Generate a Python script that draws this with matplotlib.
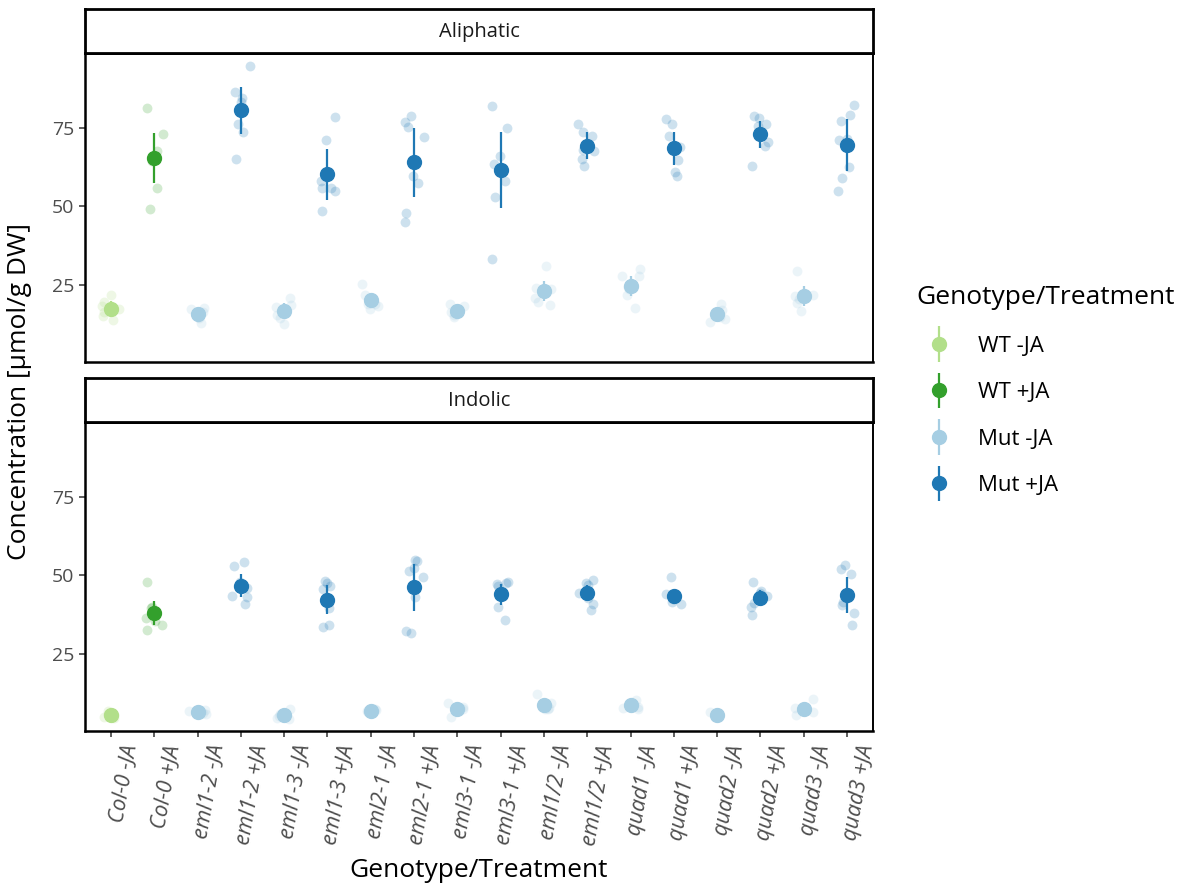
import numpy as np
import matplotlib
matplotlib.use("Agg")
import matplotlib.pyplot as plt
from matplotlib.container import ErrorbarContainer
from matplotlib.legend_handler import HandlerErrorbar
from matplotlib.transforms import ScaledTranslation

plt.rcParams['font.family'] = ['Open Sans', 'DejaVu Sans']

# ---- data -------------------------------------------------------------
categories = ['Col-0 -JA', 'Col-0 +JA', 'eml1-2 -JA', 'eml1-2 +JA',
              'eml1-3 -JA', 'eml1-3 +JA', 'eml2-1 -JA', 'eml2-1 +JA',
              'eml3-1 -JA', 'eml3-1 +JA', 'eml1/2 -JA', 'eml1/2 +JA',
              'quad1 -JA', 'quad1 +JA', 'quad2 -JA', 'quad2 +JA',
              'quad3 -JA', 'quad3 +JA']
groups = ['WT -JA', 'WT +JA'] + ['Mut -JA', 'Mut +JA'] * 8
group_order = ['WT -JA', 'WT +JA', 'Mut -JA', 'Mut +JA']
group_colors = ['#b2df8a', '#33a02c', '#a6cee3', '#1f78b4']

aliphatic_mean = [17.4, 65.3, 15.7, 80.5, 16.7, 60.3, 20.1, 64.0, 16.9,
                  61.5, 23.0, 69.3, 24.8, 68.5, 15.8, 72.9, 21.6, 69.6]
aliphatic_sd = [2.5, 8.0, 1.8, 7.5, 2.5, 8.1, 2.5, 10.9, 1.8,
                12.1, 3.2, 4.2, 3.2, 5.3, 2.0, 4.3, 3.2, 8.2]
aliphatic_points = [
    [19.6, 21.8, 13.8, 18.5, 16.5, 17.5, 15.2],
    [81.3, 73.1, 67.7, 64.4, 66.0, 55.8, 49.3],
    [17.5, 16.5, 13.1, 15.0, 17.8, 14.5],
    [94.6, 86.4, 84.5, 83.2, 76.1, 73.6, 65.1],
    [20.9, 18.7, 15.5, 12.7, 14.5, 18.0],
    [78.5, 71.0, 58.0, 56.0, 55.9, 54.8, 48.5],
    [25.2, 21.8, 19.0, 17.3, 18.5, 19.0],
    [78.7, 76.8, 75.4, 72.0, 59.6, 57.6, 47.9, 44.9],
    [18.5, 17.0, 15.5, 14.8, 19.0, 16.5],
    [82.0, 74.8, 65.9, 63.5, 58.1, 53.1, 33.4],
    [31.1, 23.7, 21.0, 18.6, 19.6, 24.0],
    [76.3, 73.8, 72.5, 69.0, 67.7, 65.0, 62.9, 68.0],
    [30.0, 27.8, 24.5, 23.7, 21.8, 17.7, 28.0],
    [77.7, 76.3, 72.5, 69.0, 64.6, 60.8, 59.7],
    [19.1, 17.2, 14.3, 13.4, 15.0],
    [78.7, 78.1, 76.3, 70.6, 69.2, 62.9, 75.5],
    [29.6, 22.0, 19.2, 20.5, 16.9, 21.5],
    [82.3, 79.2, 77.0, 71.4, 71.0, 62.6, 59.0, 54.9],
]

indolic_mean = [5.7, 38.1, 6.6, 46.7, 5.6, 42.2, 7.0, 46.2, 7.6,
                44.0, 8.9, 44.4, 8.7, 43.4, 5.7, 42.9, 7.5, 43.8]
indolic_sd = [0.8, 3.8, 0.8, 3.7, 1.0, 4.6, 0.7, 7.4, 1.5,
              3.4, 1.5, 2.5, 1.2, 1.5, 0.8, 2.5, 1.2, 5.6]
indolic_points = [
    [5.0, 6.2, 5.5, 6.8, 4.8, 5.9],
    [47.8, 39.6, 40.0, 34.4, 32.8, 36.5, 35.5],
    [6.0, 7.2, 6.5, 7.0, 6.3],
    [54.2, 52.9, 47.9, 43.4, 43.0, 40.8, 46.0],
    [4.5, 6.0, 7.5, 5.2, 4.8],
    [48.3, 47.5, 45.6, 39.5, 34.4, 33.6, 46.5],
    [6.5, 7.5, 6.8, 7.3, 6.9],
    [55.0, 54.6, 52.5, 51.5, 49.5, 32.3, 31.8, 43.0],
    [9.5, 5.0, 8.2, 7.5, 7.8],
    [48.0, 47.5, 47.2, 43.5, 40.0, 35.8, 46.5],
    [12.3, 9.5, 7.5, 8.0, 7.5],
    [48.5, 47.5, 47.1, 44.5, 42.8, 41.0, 38.9],
    [10.5, 9.5, 7.5, 8.0, 8.2],
    [49.4, 44.0, 43.5, 42.5, 41.6, 41.0],
    [6.5, 5.5, 5.0, 6.2, 5.3],
    [47.8, 45.0, 43.5, 41.3, 40.0, 37.3, 44.5],
    [10.8, 8.0, 6.5, 7.0, 5.5],
    [53.2, 52.1, 50.5, 44.0, 41.5, 40.5, 38.0, 34.2],
]

y_ticks = [25, 50, 75]
y_limits = (0.55, 98.45)

# ---- figure -----------------------------------------------------------
W, H = 1184, 888
fig = plt.figure(figsize=(W / 100, H / 100), dpi=100)


def box(x0, y0, x1, y1):
    return [x0 / W, 1 - y1 / H, (x1 - x0) / W, (y1 - y0) / H]


ax_top = fig.add_axes(box(85, 54, 873, 362))
ax_bot = fig.add_axes(box(85, 423, 873, 731))
strip_top = fig.add_axes(box(85, 9, 873, 53))
strip_bot = fig.add_axes(box(85, 378, 873, 422))

for strip, title in [(strip_top, 'Aliphatic'), (strip_bot, 'Indolic')]:
    strip.set_xticks([])
    strip.set_yticks([])
    for sp in strip.spines.values():
        sp.set_linewidth(2.0)
        sp.set_color('black')
    strip.text(0.5, 0.48, title, ha='center', va='center', fontsize=14.5,
               color='#1a1a1a', transform=strip.transAxes)

rng = np.random.default_rng(11)
xpos = np.arange(1, len(categories) + 1)
color_of = dict(zip(group_order, group_colors))

handles = {}
for ax, means, sds, pts in [(ax_top, aliphatic_mean, aliphatic_sd, aliphatic_points),
                            (ax_bot, indolic_mean, indolic_sd, indolic_points)]:
    # individual replicates, jittered horizontally
    for x, vals, g in zip(xpos, pts, groups):
        jit = rng.uniform(-0.22, 0.22, len(vals))
        ax.scatter(x + jit, vals, s=50, color=color_of[g], alpha=0.22,
                   linewidths=0, zorder=2)
    # group means with error bars
    for g in group_order:
        idx = [i for i, gg in enumerate(groups) if gg == g]
        cont = ax.errorbar(xpos[idx], np.array(means)[idx],
                           yerr=np.array(sds)[idx], fmt='o',
                           color=color_of[g], ms=10, elinewidth=1.6,
                           capsize=0, zorder=3, label=g)
        handles.setdefault(g, cont)

    ax.set_xlim(0.4, len(categories) + 0.6)
    ax.set_ylim(*y_limits)
    ax.set_yticks(y_ticks)
    ax.tick_params(axis='y', labelsize=14, labelcolor='#4d4d4d',
                   color='#333333', length=4, width=1.1, pad=4)
    for name, sp in ax.spines.items():
        sp.set_linewidth(1.8 if name in ('left', 'bottom') else 1.4)
        sp.set_color('black')

ax_top.set_xticks([])
ax_bot.set_xticks(xpos)
ax_bot.set_xticklabels(categories, rotation=80, ha='right', va='center',
                       rotation_mode='anchor', fontstyle='italic',
                       fontsize=15.5, color='#4d4d4d')
ax_bot.tick_params(axis='x', color='#333333', length=4, width=1.1, pad=6)
shift = ScaledTranslation(20 / 100, 0, fig.dpi_scale_trans)
for lab in ax_bot.get_xticklabels():
    lab.set_transform(lab.get_transform() + shift)

fig.text(479 / W, 1 - 870 / H, 'Genotype/Treatment',
         ha='center', va='center', fontsize=19)
fig.text(20 / W, 1 - 392 / H, 'Concentration [µmol/g DW]',
         ha='center', va='center', rotation=90, fontsize=19)

leg = fig.legend([handles[g] for g in group_order], group_order,
                 loc='upper left', bbox_to_anchor=(916 / W, 1 - 285 / H),
                 title='Genotype/Treatment', title_fontsize=19,
                 fontsize=16, frameon=False, alignment='left',
                 handler_map={ErrorbarContainer: HandlerErrorbar(xerr_size=0.5, yerr_size=0.8)},
                 handlelength=2.1, handletextpad=0.7, labelspacing=1.15,
                 borderpad=0, borderaxespad=0)

fig.savefig('out.png', dpi=100)
